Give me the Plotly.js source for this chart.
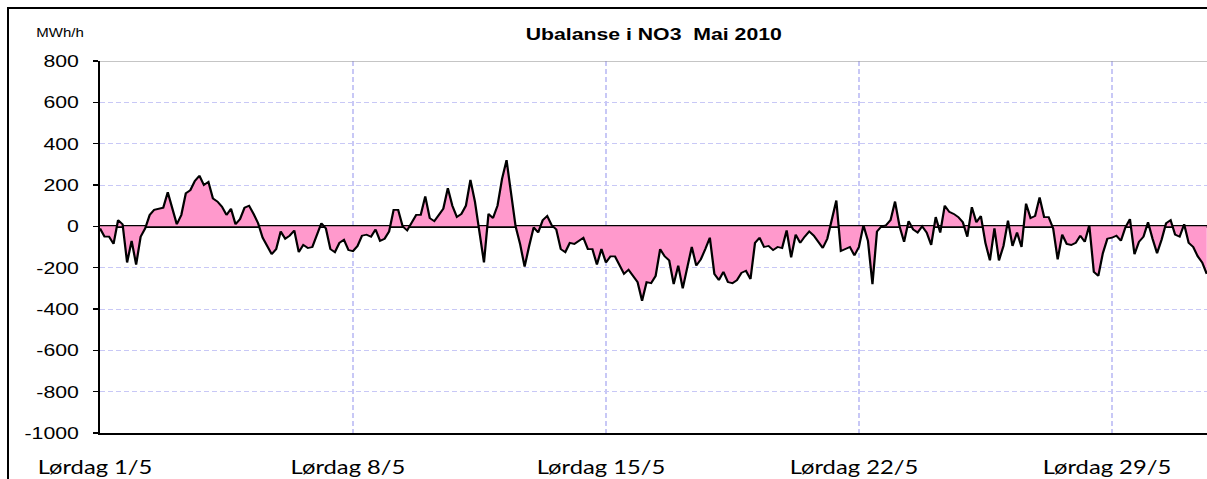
<!DOCTYPE html>
<html>
<head>
<meta charset="utf-8">
<script src="https://cdn.plot.ly/plotly-3.0.1.min.js"></script>
<style>
html,body{margin:0;padding:0;width:1207px;height:479px;overflow:hidden;background:#fff}
#plot{position:absolute;left:0;top:0;width:965.6px;height:479px;transform:scaleX(1.25);transform-origin:0 0}
#frame{position:absolute;left:7px;top:7px;width:1400px;height:600px;border:2px solid #000;box-sizing:border-box;pointer-events:none}
</style>
</head>
<body>
<div id="plot"></div>
<div id="frame"></div>
<script>
// Ubalanse i NO3, mai 2010 (MWh/h), read every 3rd hour from the picture
const stepHours = 3;
const imbalance = [
  -10,-50,-50,-85,30,10,-175,-70,        // 1/5
  -185,-50,-10,55,80,85,90,165,          // 2/5
  80,10,55,160,175,220,245,200,          // 3/5
  215,135,120,95,55,85,10,35,            // 4/5
  90,100,60,15,-55,-95,-135,-110,        // 5/5
  -25,-60,-45,-20,-125,-90,-105,-100,    // 6/5
  -40,15,-10,-110,-125,-80,-65,-115,     // 7/5
  -120,-95,-45,-40,-50,-15,-70,-60,      // 8/5
  -25,80,80,0,-20,20,55,55,              // 9/5
  145,40,25,55,85,185,100,45,            // 10/5
  60,100,225,120,-20,-175,60,40,         // 11/5
  100,230,320,170,0,-86,-195,-95,        // 12/5
  -5,-30,30,50,5,-15,-110,-125,          // 13/5
  -80,-85,-70,-55,-110,-110,-185,-110,   // 14/5
  -175,-145,-145,-190,-230,-210,-240,-270, // 15/5
  -360,-270,-275,-240,-110,-145,-165,-280, // 16/5
  -190,-300,-200,-100,-190,-160,-110,-55,  // 17/5
  -230,-260,-220,-270,-275,-260,-225,-215, // 18/5
  -255,-80,-55,-100,-95,-115,-100,-105,    // 19/5
  -20,-150,-40,-80,-50,-25,-45,-75,        // 20/5
  -105,-60,35,125,-120,-110,-100,-140,     // 21/5
  -100,5,-70,-280,-25,0,5,30,              // 22/5
  120,0,-75,25,-15,-30,0,-30,              // 23/5
  -90,45,-30,100,70,60,45,20,              // 24/5
  -50,93,20,50,-80,-165,-10,-165,          // 25/5
  -95,28,-95,-30,-100,110,40,50,           // 26/5
  140,45,45,-10,-160,-40,-85,-90,          // 27/5
  -80,-45,-75,5,-220,-240,-130,-60,        // 28/5
  -55,-45,-70,-5,35,-135,-75,-50,          // 29/5
  20,-60,-130,-65,15,30,-40,-50,           // 30/5
  10,-80,-100,-145,-175,-230               // 31/5
];
const hourOfMonth = imbalance.map((v, i) => i * stepHours);

const tickHours = [0, 168, 336, 504, 672];
const tickLabels = ['Lørdag 1/5', 'Lørdag 8/5', 'Lørdag 15/5', 'Lørdag 22/5', 'Lørdag 29/5'];
const yTickValues = [-1000, -800, -600, -400, -200, 0, 200, 400, 600, 800];
const yTickLabels = ['-1000', '-800', '-600', '-400', '-200', '0', '200', '400', '600', '800'];
const xRange = [0, 735.5];
const yRange = [-1000, 800];

const trace = {
  x: hourOfMonth,
  y: imbalance,
  type: 'scatter',
  mode: 'lines',
  fill: 'tozeroy',
  fillcolor: '#ff99cc',
  line: {color: '#000000', width: 1.8},
  hoverinfo: 'skip'
};

const layout = {
  width: 965.6,
  height: 479,
  margin: {l: 80, r: 0, t: 61, b: 46},
  paper_bgcolor: 'rgba(0,0,0,0)',
  plot_bgcolor: 'rgba(0,0,0,0)',
  showlegend: false,
  title: {
    text: '<b>Ubalanse i NO3  Mai 2010</b>',
    font: {family: 'Liberation Sans, Arial, sans-serif', size: 17, color: '#000'},
    x: 0.5, xref: 'paper', xanchor: 'center',
    y: 1 - 34/479, yref: 'container', yanchor: 'middle'
  },
  xaxis: {
    range: xRange,
    tickvals: tickHours,
    ticktext: tickLabels,
    ticks: '',
    showgrid: true,
    gridcolor: '#c8c8f6',
    gridwidth: 1,
    griddash: '5px,3px',
    zeroline: false,
    showline: true,
    linecolor: '#000',
    linewidth: 1.5,
    ticklabelstandoff: 17,
    ticklabelshift: -4,
    tickfont: {family: 'Lato, Open Sans, sans-serif', size: 19, color: '#000'}
  },
  yaxis: {
    range: yRange,
    tickvals: yTickValues,
    ticktext: yTickLabels,
    ticks: 'outside',
    ticklen: 4,
    tickwidth: 1.5,
    tickcolor: '#000',
    showgrid: true,
    gridcolor: '#c8c8f6',
    gridwidth: 1,
    griddash: '4px,2.4px',
    zeroline: true,
    zerolinecolor: '#000',
    zerolinewidth: 2.5,
    showline: true,
    linecolor: '#000',
    linewidth: 1.5,
    ticklabelstandoff: 8,
    tickfont: {family: 'Liberation Sans, Arial, sans-serif', size: 17, color: '#000'}
  },
  shapes: [
    {type: 'line', xref: 'paper', yref: 'y', x0: 0, x1: 1, y0: yRange[1], y1: yRange[1],
     line: {color: '#8c8c8c', width: 1.2}}
  ],
  annotations: [
    {text: 'MWh/h', xref: 'paper', yref: 'paper', x: -0.036, y: 1 + 28/372,
     xanchor: 'center', yanchor: 'middle', showarrow: false,
     font: {family: 'Liberation Sans, Arial, sans-serif', size: 12, color: '#000'}}
  ]
};

Plotly.newPlot('plot', [trace], layout, {staticPlot: true, displayModeBar: false});
</script>
</body>
</html>
